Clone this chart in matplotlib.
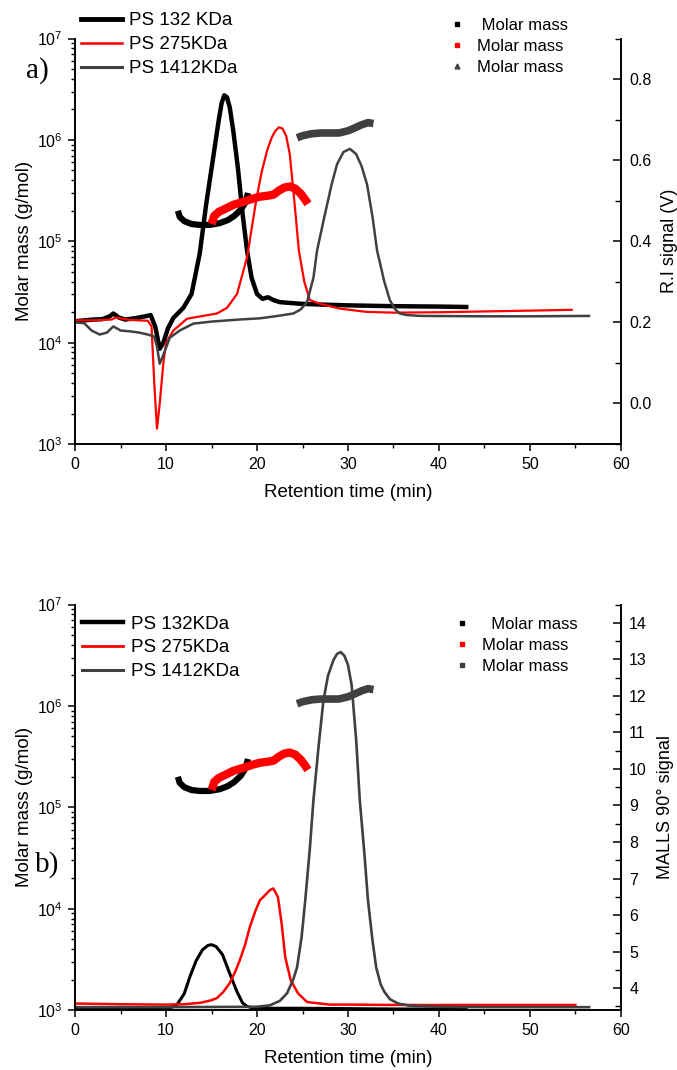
import numpy as np
import matplotlib
matplotlib.use('Agg')
import matplotlib.pyplot as plt
from matplotlib.lines import Line2D
from matplotlib.ticker import MultipleLocator, LogLocator, NullFormatter, FormatStrFormatter

plt.rcParams['font.family'] = ['Liberation Sans', 'DejaVu Sans']
plt.rcParams['mathtext.fontset'] = 'custom'
plt.rcParams['mathtext.rm'] = 'Liberation Sans'
plt.rcParams['mathtext.default'] = 'regular'

BLACK = 'black'
RED = '#ff0000'
GRAY = '#404040'

# ---- panel a) R.I signal (V) ----
ri_132_t = [0, 1, 2, 3, 3.8, 4.2, 4.8, 5.5, 6.5, 7.5, 8.3, 8.8, 9.3, 9.7, 10.2, 10.8, 11.9,
            12.8, 13.7, 14.4, 15.0, 15.4, 15.8, 16.1, 16.4, 16.7, 17.0, 17.4, 17.9, 18.4,
            18.9, 19.4, 20.0, 20.6, 21.2, 21.8, 22.5, 24.7, 27, 30, 35, 40, 43]
ri_132_v = [0.203, 0.205, 0.207, 0.208, 0.215, 0.222, 0.212, 0.207, 0.210, 0.214, 0.218,
            0.19, 0.135, 0.15, 0.185, 0.211, 0.236, 0.27, 0.37, 0.49, 0.58, 0.64, 0.70,
            0.74, 0.76, 0.755, 0.73, 0.67, 0.58, 0.47, 0.377, 0.31, 0.27, 0.258, 0.262,
            0.255, 0.25, 0.246, 0.244, 0.242, 0.240, 0.239, 0.238]

ri_275_t = [0, 2, 4, 4.5, 6, 8, 8.4, 8.7, 9.0, 9.3, 9.7, 10.0, 10.8, 12.3, 15.6, 16.7,
            17.8, 18.9, 19.9, 20.5, 21.1, 21.6, 22.0, 22.4, 22.8, 23.2, 23.6, 24.1, 24.6,
            25.2, 25.8, 26.9, 29.1, 32, 35, 40, 45, 50, 54.6]
ri_275_v = [0.205, 0.205, 0.207, 0.212, 0.206, 0.204, 0.19, 0.05, -0.062, 0.0, 0.10, 0.15,
            0.18, 0.209, 0.222, 0.236, 0.27, 0.36, 0.50, 0.57, 0.623, 0.655, 0.672, 0.681,
            0.678, 0.66, 0.615, 0.50, 0.377, 0.30, 0.255, 0.246, 0.234, 0.226, 0.224,
            0.225, 0.227, 0.229, 0.231]

ri_1412_t = [0, 1, 1.8, 2.7, 3.5, 4.2, 5, 6, 7, 8, 8.7, 9.0, 9.3, 9.7, 10.4, 11.5, 13, 15,
             18, 20.3, 22, 24, 24.8, 25.5, 26.2, 26.6, 27.4, 28.2, 28.8, 29.5, 30.2, 30.9,
             31.5, 32.1, 32.7, 33.2, 34.0, 34.6, 35.2, 35.7, 36.5, 38, 45, 50, 56.5]
ri_1412_v = [0.2, 0.198, 0.18, 0.17, 0.175, 0.19, 0.18, 0.178, 0.175, 0.17, 0.165, 0.14,
             0.098, 0.12, 0.162, 0.18, 0.197, 0.202, 0.207, 0.21, 0.215, 0.222, 0.232,
             0.25, 0.31, 0.377, 0.46, 0.54, 0.59, 0.62, 0.628, 0.615, 0.585, 0.54, 0.46,
             0.377, 0.30, 0.255, 0.232, 0.222, 0.218, 0.216, 0.215, 0.215, 0.216]

# ---- panel b) MALLS 90 deg signal ----
ls_132_t = [0, 5, 10, 10.5, 11.2, 12.0, 12.6, 13.3, 14.0, 14.6, 15.0, 15.5, 16.2, 17.0,
            17.8, 18.4, 18.9, 19.5, 20.5, 25, 30, 35, 40, 43]
ls_132_v = [3.45, 3.44, 3.44, 3.46, 3.55, 3.85, 4.3, 4.75, 5.05, 5.17, 5.19, 5.14, 4.92,
            4.4, 3.9, 3.6, 3.5, 3.46, 3.45, 3.45, 3.44, 3.43, 3.43, 3.43]

ls_275_t = [0, 5, 10, 12, 13.8, 15.0, 15.6, 16.3, 17.0, 17.6, 18.1, 18.7, 19.2, 19.8,
            20.3, 20.9, 21.4, 21.8, 22.3, 22.7, 23.1, 23.7, 24.5, 25.5, 28.0, 30, 35, 40,
            45, 50, 55]
ls_275_v = [3.58, 3.56, 3.55, 3.56, 3.6, 3.67, 3.73, 3.9, 4.14, 4.45, 4.76, 5.2, 5.67,
            6.1, 6.4, 6.55, 6.68, 6.73, 6.49, 5.78, 4.85, 4.22, 3.86, 3.62, 3.55, 3.55,
            3.54, 3.54, 3.54, 3.54, 3.54]

ls_1412_t = [0, 10, 20, 21.4, 22.5, 23.3, 24.0, 24.4, 24.9, 25.3, 25.8, 26.2, 26.8, 27.3,
             27.8, 28.4, 28.8, 29.2, 29.6, 30.0, 30.4, 30.9, 31.3, 31.8, 32.2, 32.7, 33.1,
             33.6, 34.0, 34.6, 35.5, 36.8, 40, 45, 50, 56.5]
ls_1412_v = [3.48, 3.48, 3.49, 3.53, 3.65, 3.86, 4.25, 4.57, 5.4, 6.4, 7.8, 9.14, 10.7,
             11.87, 12.55, 12.98, 13.15, 13.2, 13.1, 12.85, 12.3, 10.8, 9.14, 7.7, 6.4,
             5.3, 4.57, 4.1, 3.9, 3.7, 3.58, 3.52, 3.49, 3.48, 3.48, 3.48]

# ---- molar mass (g/mol) ----
mm_132_t = [11.3, 11.5, 12.0, 12.8, 13.7, 14.8, 15.9, 16.8, 17.5, 18.2, 18.7, 18.9, 19.0]
mm_132 = [2.0e5, 1.74e5, 1.58e5, 1.48e5, 1.45e5, 1.45e5, 1.51e5, 1.62e5, 1.78e5, 2.04e5,
          2.4e5, 2.75e5, 3.0e5]
mm_275_t = [15.0, 15.3, 15.8, 16.5, 17.4, 18.5, 19.5, 20.3, 21.2, 21.8, 22.4, 23.0, 23.6,
            24.2, 24.8, 25.3, 25.6]
mm_275 = [1.48e5, 1.78e5, 1.95e5, 2.09e5, 2.29e5, 2.45e5, 2.63e5, 2.75e5, 2.82e5, 2.88e5,
          3.16e5, 3.39e5, 3.47e5, 3.31e5, 2.95e5, 2.57e5, 2.34e5]
mm_1412_t = [24.4, 25.0, 26.0, 27.0, 28.0, 29.0, 30.0, 30.8, 31.5, 32.2, 32.8]
mm_1412 = [1.05e6, 1.10e6, 1.15e6, 1.17e6, 1.17e6, 1.17e6, 1.23e6, 1.32e6, 1.41e6,
           1.48e6, 1.45e6]

legend_names_a = ['PS 132 KDa', 'PS 275KDa', 'PS 1412KDa']
legend_names_b = ['PS 132KDa', 'PS 275KDa', 'PS 1412KDa']

fig = plt.figure(figsize=(6.77, 10.7), dpi=100)


def style_axes(ax, ax2, ylim2, major2, minor2):
    ax.set_xlim(0, 60)
    ax.set_yscale('log')
    ax.set_ylim(1e3, 1e7)
    ax.xaxis.set_major_locator(MultipleLocator(10))
    ax.xaxis.set_minor_locator(MultipleLocator(5))
    ax.yaxis.set_major_locator(LogLocator(base=10, numticks=10))
    ax.yaxis.set_minor_locator(LogLocator(base=10, subs=np.arange(2, 10), numticks=20))
    ax.yaxis.set_minor_formatter(NullFormatter())
    ax2.set_ylim(*ylim2)
    ax2.yaxis.set_major_locator(MultipleLocator(major2))
    ax2.yaxis.set_minor_locator(MultipleLocator(minor2))
    for a in (ax, ax2):
        a.spines['top'].set_visible(False)
        for s in a.spines.values():
            s.set_linewidth(1.2)
    ax.tick_params(which='major', direction='out', length=5, width=1.1, labelsize=11.5, pad=4)
    ax.tick_params(which='minor', direction='out', length=3, width=1.0)
    # right axis ticks point into the plot
    ax2.tick_params(which='major', direction='in', length=6, width=1.1, labelsize=11.5, pad=6)
    ax2.tick_params(which='minor', direction='in', length=4, width=1.0)
    ax.set_xlabel('Retention time (min)', fontsize=13.5, labelpad=9)
    ax.set_ylabel('Molar mass (g/mol)', fontsize=13.5, labelpad=3)
    ax.patch.set_visible(False)


# ---------------- panel a ----------------
ax = fig.add_axes([0.111, 0.585, 0.806, 0.379])
ax2 = ax.twinx()
ax.plot(mm_132_t, mm_132, color=BLACK, lw=4.5, solid_capstyle='butt')
ax.plot(mm_275_t, mm_275, color=RED, lw=6, solid_capstyle='butt')
ax.plot(mm_1412_t, mm_1412, color=GRAY, lw=5.5, solid_capstyle='butt')
ax2.plot(ri_132_t, ri_132_v, color=BLACK, lw=3.2)
ax2.plot(ri_275_t, ri_275_v, color=RED, lw=1.6)
ax2.plot(ri_1412_t, ri_1412_v, color=GRAY, lw=1.8)
ax.set_zorder(ax2.get_zorder() + 1)
style_axes(ax, ax2, (-0.1, 0.9), 0.2, 0.1)
ax2.yaxis.set_major_formatter(FormatStrFormatter('%.1f'))
ax2.set_ylabel('R.I signal (V)', fontsize=13, labelpad=7)

h_lines = [Line2D([], [], color=BLACK, lw=3.5), Line2D([], [], color=RED, lw=1.8),
           Line2D([], [], color=GRAY, lw=2.2)]
fig.legend(h_lines, legend_names_a, loc='upper left', bbox_to_anchor=(0.119, 0.9885),
           frameon=False, fontsize=13.5, handlelength=2.2, handletextpad=0.4,
           labelspacing=0.36, borderpad=0, borderaxespad=0)
h_pts = [Line2D([], [], color=BLACK, marker='s', ls='none', markersize=3.5),
         Line2D([], [], color=RED, marker='s', ls='none', markersize=3.5),
         Line2D([], [], color=GRAY, marker='^', ls='none', markersize=3.5)]
fig.legend(h_pts, [' Molar mass', 'Molar mass', 'Molar mass'], loc='upper left',
           bbox_to_anchor=(0.665, 0.983), frameon=False, fontsize=12, handlelength=0.8,
           handletextpad=0.8, labelspacing=0.36, borderpad=0, borderaxespad=0)
fig.text(26 / 677, 1 - 78 / 1070, 'a)', family=['Liberation Serif'], fontsize=21)

# ---------------- panel b ----------------
bx = fig.add_axes([0.111, 0.056, 0.806, 0.379])
bx2 = bx.twinx()
bx.plot(mm_132_t, mm_132, color=BLACK, lw=4.5, solid_capstyle='butt')
bx.plot(mm_275_t, mm_275, color=RED, lw=6, solid_capstyle='butt')
bx.plot(mm_1412_t, mm_1412, color=GRAY, lw=5.5, solid_capstyle='butt')
bx2.plot(ls_132_t, ls_132_v, color=BLACK, lw=2.2)
bx2.plot(ls_275_t, ls_275_v, color=RED, lw=1.8)
bx2.plot(ls_1412_t, ls_1412_v, color=GRAY, lw=1.9)
bx.set_zorder(bx2.get_zorder() + 1)
style_axes(bx, bx2, (3.4, 14.5), 1, 0.5)
bx2.set_ylabel('MALLS 90° signal', fontsize=13, labelpad=7)

h_lines_b = [Line2D([], [], color=BLACK, lw=3.2), Line2D([], [], color=RED, lw=2.0),
             Line2D([], [], color=GRAY, lw=2.2)]
fig.legend(h_lines_b, legend_names_b, loc='upper left', bbox_to_anchor=(0.121, 0.4248),
           frameon=False, fontsize=13.5, handlelength=2.2, handletextpad=0.4,
           labelspacing=0.36, borderpad=0, borderaxespad=0)
h_pts_b = [Line2D([], [], color=BLACK, marker='s', ls='none', markersize=3.5),
           Line2D([], [], color=RED, marker='s', ls='none', markersize=3.5),
           Line2D([], [], color=GRAY, marker='s', ls='none', markersize=3.5)]
fig.legend(h_pts_b, ['  Molar mass', 'Molar mass', 'Molar mass'], loc='upper left',
           bbox_to_anchor=(0.672, 0.4232), frameon=False, fontsize=12, handlelength=0.8,
           handletextpad=0.8, labelspacing=0.36, borderpad=0, borderaxespad=0)
fig.text(35 / 677, 1 - 872 / 1070, 'b)', family=['Liberation Serif'], fontsize=21)

fig.savefig('out.png', dpi=100)
